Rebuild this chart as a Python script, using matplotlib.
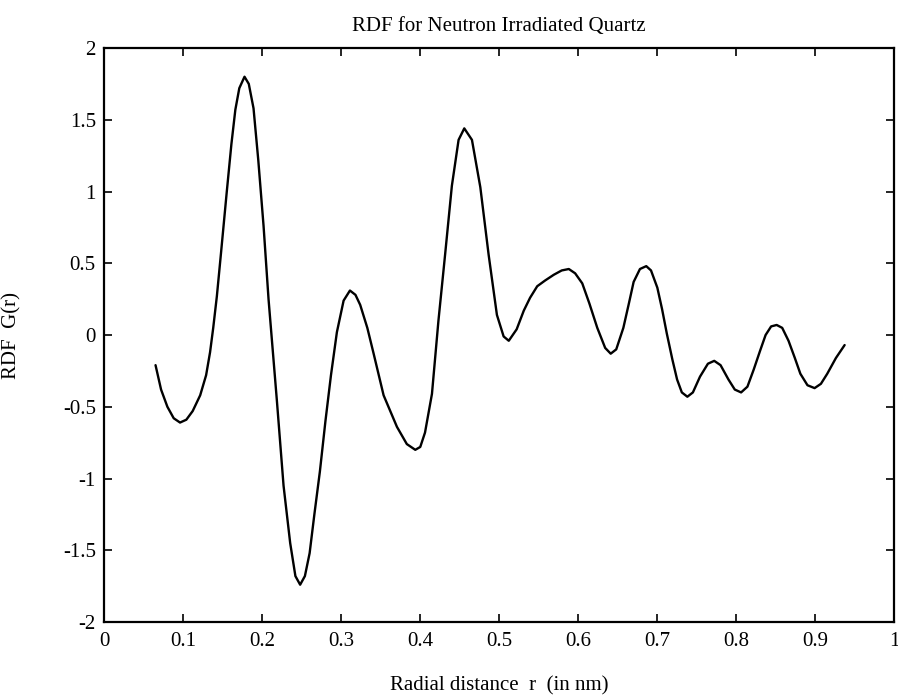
import numpy as np
import matplotlib
matplotlib.use("Agg")
import matplotlib.pyplot as plt

# -----------------------------------
# Data
# -----------------------------------

r_nm = [0.065, 0.072, 0.080, 0.088, 0.096, 0.104, 0.112, 0.1215, 0.129,
        0.134, 0.138, 0.1426, 0.148, 0.155, 0.161, 0.166, 0.171, 0.1776,
        0.183, 0.189, 0.195, 0.2017, 0.208, 0.2186, 0.227, 0.2354, 0.242,
        0.248, 0.254, 0.260, 0.266, 0.273, 0.280, 0.287, 0.2945, 0.303,
        0.311, 0.318, 0.324, 0.333, 0.341, 0.3536, 0.3705, 0.383, 0.3937,
        0.400, 0.406, 0.4148, 0.423, 0.4316, 0.440, 0.4485, 0.4557, 0.4654,
        0.476, 0.4865, 0.497, 0.5055, 0.512, 0.522, 0.531, 0.539, 0.548,
        0.558, 0.569, 0.579, 0.588, 0.596, 0.605, 0.614, 0.624, 0.634,
        0.641, 0.648, 0.657, 0.664, 0.670, 0.678, 0.686, 0.692, 0.700,
        0.706, 0.712, 0.719, 0.725, 0.731, 0.738, 0.745, 0.754, 0.764,
        0.772, 0.780, 0.790, 0.798, 0.806, 0.814, 0.822, 0.830, 0.837,
        0.844, 0.851, 0.858, 0.866, 0.874, 0.881, 0.890, 0.899, 0.907,
        0.915, 0.926, 0.937]

g_r = [-0.21, -0.38, -0.50, -0.58, -0.61, -0.59, -0.53, -0.42, -0.28,
       -0.12, 0.05, 0.27, 0.58, 0.99, 1.33, 1.57, 1.72, 1.80,
       1.75, 1.58, 1.22, 0.76, 0.25, -0.46, -1.05, -1.45, -1.68,
       -1.74, -1.68, -1.52, -1.25, -0.95, -0.60, -0.28, 0.02, 0.24,
       0.31, 0.28, 0.21, 0.05, -0.13, -0.42, -0.64, -0.76, -0.80,
       -0.78, -0.68, -0.41, 0.10, 0.57, 1.04, 1.36, 1.44, 1.36,
       1.03, 0.56, 0.14, -0.01, -0.04, 0.04, 0.17, 0.26, 0.34,
       0.38, 0.42, 0.45, 0.46, 0.43, 0.36, 0.22, 0.05, -0.09,
       -0.13, -0.10, 0.05, 0.22, 0.37, 0.46, 0.48, 0.45, 0.33,
       0.18, 0.01, -0.17, -0.31, -0.40, -0.43, -0.40, -0.29, -0.20,
       -0.18, -0.21, -0.31, -0.38, -0.40, -0.36, -0.24, -0.11, 0.00,
       0.06, 0.07, 0.05, -0.04, -0.16, -0.27, -0.35, -0.37, -0.34,
       -0.27, -0.16, -0.07]

x_ticks = [0, 0.1, 0.2, 0.3, 0.4, 0.5, 0.6, 0.7, 0.8, 0.9, 1]
x_labels = ["0", "0.1", "0.2", "0.3", "0.4", "0.5", "0.6", "0.7", "0.8", "0.9", "1"]
y_ticks = [-2, -1.5, -1, -0.5, 0, 0.5, 1, 1.5, 2]
y_labels = ["-2", "-1.5", "-1", "-0.5", "0", "0.5", "1", "1.5", "2"]

# -----------------------------------
# Figure
# -----------------------------------

plt.rcParams["font.family"] = ["Liberation Serif", "DejaVu Serif"]

fig = plt.figure(figsize=(8.98, 7.0), dpi=100)
ax = fig.add_axes([0.116, 0.1114, 0.880, 0.820])

ax.plot(r_nm, g_r, color="black", linewidth=1.7,
        solid_joinstyle="round", solid_capstyle="round")

ax.set_xlim(0, 1)
ax.set_ylim(-2, 2)
ax.set_xticks(x_ticks)
ax.set_xticklabels(x_labels)
ax.set_yticks(y_ticks)
ax.set_yticklabels(y_labels)

ax.tick_params(direction="in", length=6, width=1.2, labelsize=15,
               top=True, right=True)
ax.tick_params(axis="x", pad=7)
ax.tick_params(axis="y", pad=6)
for side in ax.spines.values():
    side.set_linewidth(1.6)

ax.set_title("RDF for Neutron Irradiated Quartz", fontsize=15, pad=12)
ax.set_xlabel("Radial distance  r  (in nm)", fontsize=15)
ax.set_ylabel("RDF  G(r)", fontsize=15)
ax.xaxis.set_label_coords(0.5, -0.095)
ax.yaxis.set_label_coords(-0.105, 0.5)

fig.savefig("out.png", dpi=100)
